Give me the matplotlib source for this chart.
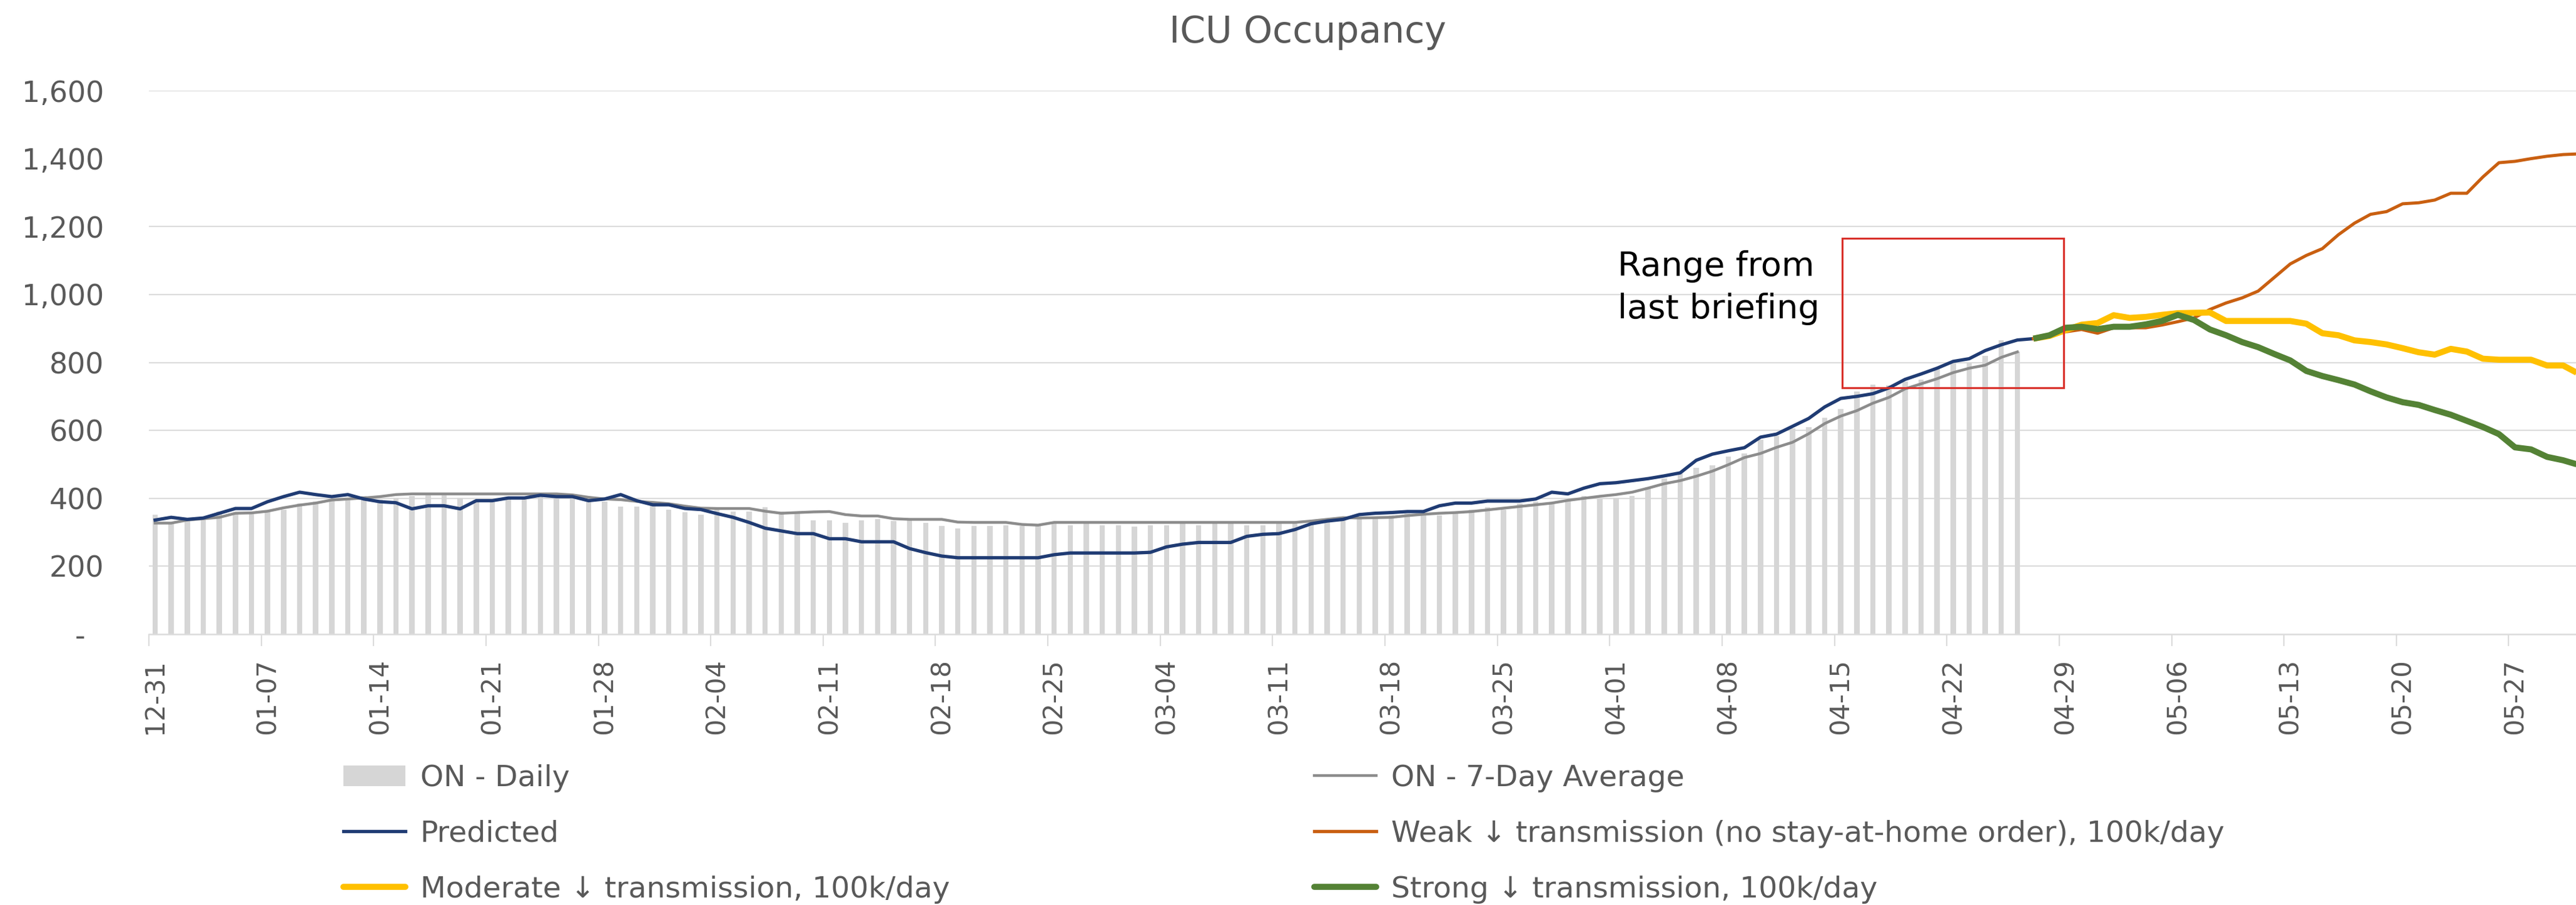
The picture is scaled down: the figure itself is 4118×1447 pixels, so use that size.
import numpy as np
import matplotlib
matplotlib.use("Agg")
import matplotlib.pyplot as plt
from matplotlib.patches import Rectangle
from matplotlib.lines import Line2D
from matplotlib.patches import Patch

# ---------------- data ----------------
tick_labels = ["12-31", "01-07", "01-14", "01-21", "01-28", "02-04", "02-11", "02-18",
               "02-25", "03-04", "03-11", "03-18", "03-25", "04-01", "04-08", "04-15",
               "04-22", "04-29", "05-06", "05-13", "05-20", "05-27"]

on_daily = [352, 327, 333, 338, 361, 356, 356, 361, 367, 384, 390, 395, 395, 407, 395, 401,
            407, 409, 409, 401, 395, 395, 401, 401, 409, 407, 407, 390, 390, 375, 375, 384,
            367, 359, 352, 373, 361, 361,
            373, 361, 356, 335, 335, 327, 335, 338, 333, 338, 327, 318, 312, 318, 318, 321,
            318, 318, 327, 321, 327, 321, 321, 316, 321, 321, 327, 321, 325, 325, 321, 321,
            327, 325, 333, 341, 338, 344,
            344, 350, 356, 356, 350, 361, 367, 373, 367, 384, 390, 386, 395, 407, 398, 401,
            407, 432, 458, 473, 489, 498, 523, 532, 572, 583, 606, 610, 637, 663, 715, 735,
            732, 743, 749, 783, 797, 800, 819, 865, 833]

on_7day = [327, 327, 336, 340, 344, 356, 357, 362, 372, 380, 386, 395, 398, 401, 405, 411,
           413, 413, 413, 413, 413, 413, 413, 413, 413, 413, 410, 403, 398, 396, 391, 388,
           384, 377, 371, 370, 370, 370,
           362, 356, 358, 360, 361, 352, 348, 348, 340, 338, 338, 338, 330, 329, 329, 329,
           323, 321, 329, 329, 329, 329, 329, 329, 329, 329, 329, 329, 329, 329, 329, 329,
           329, 329, 333, 338, 343, 342,
           343, 344, 349, 353, 356, 358, 361, 366, 371, 376, 381, 386, 394, 400, 406, 411,
           418, 430, 443, 452, 465, 480, 499, 520, 532, 550, 565, 590, 620, 642, 658, 680,
           697, 722, 737, 752, 770, 783, 792, 815, 831]

predicted = [336, 344, 338, 342, 356, 370, 370, 390, 405, 418, 411, 405, 411, 398, 390, 387,
             369, 378, 378, 369, 393, 393, 401, 401, 409, 405, 405, 393, 398, 411, 393, 381,
             381, 370, 367, 355, 344, 329,
             312, 304, 296, 296, 281, 281, 272, 272, 272, 252, 240, 230, 225, 225, 225, 225,
             225, 225, 234, 239, 239, 239, 239, 239, 241, 257, 265, 270, 270, 270, 288, 294,
             296, 308, 325, 333, 338, 352,
             356, 358, 361, 361, 378, 386, 386, 392, 392, 392, 398, 418, 413, 430, 443, 446,
             452, 458, 466, 475, 512, 530, 540, 549, 580, 589, 612, 635, 669, 694, 700, 708,
             725, 750, 766, 783, 803, 811, 835, 852, 866, 870]

scenario_start_day = 117  # 04-27, last predicted day

weak = [870, 878, 890, 897, 886, 902, 902, 902, 910, 920, 931, 956, 975, 990, 1010, 1050,
        1090, 1115, 1135, 1176, 1210, 1236, 1244, 1267, 1270, 1278, 1298, 1298, 1346, 1388,
        1392, 1400, 1407, 1412, 1414]
moderate = [870, 878, 895, 911, 916, 939, 931, 934, 940, 945, 946, 947, 922, 922, 922, 922,
            922, 914, 886, 880, 865, 860, 853, 842, 830, 823, 840, 832, 811, 808, 808, 808,
            791, 791, 766]
strong = [870, 880, 902, 905, 898, 905, 905, 912, 922, 940, 925, 897, 880, 860, 845, 825,
          806, 775, 760, 748, 735, 715, 697, 683, 675, 660, 646, 628, 610, 589, 550, 544,
          522, 512, 498]

y_ticks = [0, 200, 400, 600, 800, 1000, 1200, 1400, 1600]
grid_values = [200, 400, 600, 800, 1000, 1200, 1600]
briefing_range = (105.1, 118.9, 726, 1165)  # x0, x1, y0, y1 in data units

# ---------------- style ----------------
C_BAR = "#d6d6d6"
C_AVG = "#8c8c8c"
C_PRED = "#1f3b73"
C_WEAK = "#c95f10"
C_MOD = "#ffc000"
C_STRONG = "#548235"
C_TEXT = "#595959"
C_GRID = "#dcdcdc"

W, H = 4118, 1447
fig = plt.figure(figsize=(W / 100, H / 100), dpi=100)
ax = fig.add_axes([238 / W, (H - 1014) / H, 1 - 238 / W, (1014 - 145) / H])

x_obs = np.arange(len(on_daily))
x_pred = np.arange(len(predicted))
x_scn = scenario_start_day + np.arange(len(weak))

ax.bar(x_obs, on_daily, width=0.33, color=C_BAR, zorder=2)
ax.plot(np.arange(len(on_7day)), on_7day, color=C_AVG, lw=3.2, zorder=3)
ax.plot(x_pred, predicted, color=C_PRED, lw=3.8, zorder=4)
ax.plot(x_scn, weak, color=C_WEAK, lw=3.6, zorder=5)
ax.plot(x_scn, moderate, color=C_MOD, lw=7.0, zorder=6, solid_capstyle="butt")
ax.plot(x_scn, strong, color=C_STRONG, lw=7.0, zorder=7, solid_capstyle="butt")

for g in grid_values:
    ax.axhline(g, color=C_GRID, lw=1.6, zorder=1)

x0, x1, y0, y1 = briefing_range
ax.add_patch(Rectangle((x0, y0), x1 - x0, y1 - y0, fill=False, edgecolor="#d9302a",
                       lw=2.2, zorder=8))
ax.text(91.1, 1130, "Range from\nlast briefing", fontsize=39, color="black",
        ha="left", va="top", linespacing=1.38, zorder=9)

ax.set_xlim(-0.39, 150.8)
ax.set_ylim(0, 1600)

# y axis
ax.set_yticks(y_ticks)
ax.set_yticklabels(["-  "] + [f"{v:,}" for v in y_ticks[1:]])
ax.tick_params(axis="y", length=0, pad=52, labelsize=33, labelcolor=C_TEXT)

# x axis: labels at weekly positions, tick marks slightly left (category boundaries)
label_pos = np.arange(len(tick_labels)) * 7
ax.set_xticks(label_pos)
ax.set_xticklabels(tick_labels, rotation=90)
ax.tick_params(axis="x", which="major", length=0, pad=28, labelsize=30, labelcolor=C_TEXT)
ax.set_xticks(label_pos - 0.39, minor=True)
ax.tick_params(axis="x", which="minor", length=14, width=1.6, color=C_GRID, direction="out")

for s in ["top", "right", "left"]:
    ax.spines[s].set_visible(False)
ax.spines["bottom"].set_color(C_GRID)
ax.spines["bottom"].set_linewidth(1.8)
ax.spines["bottom"].set_zorder(2.5)

# title
fig.text(2090 / W, 1 - 68 / H, "ICU Occupancy", fontsize=42, color=C_TEXT,
         ha="center", va="baseline")

# legends
h_daily = Patch(facecolor=C_BAR, edgecolor="none")
h_avg = Line2D([], [], color=C_AVG, lw=3.2)
h_pred = Line2D([], [], color=C_PRED, lw=3.8)
h_weak = Line2D([], [], color=C_WEAK, lw=3.8)
h_mod = Line2D([], [], color=C_MOD, lw=7.0, solid_capstyle="round")
h_str = Line2D([], [], color=C_STRONG, lw=7.0, solid_capstyle="round")

common = dict(frameon=False, fontsize=34, handlelength=2.1, handletextpad=0.5,
              labelspacing=0.93, borderpad=0, borderaxespad=0, labelcolor=C_TEXT,
              loc="upper left")
fig.legend([h_daily, h_pred, h_mod],
           ["ON - Daily", "Predicted", "Moderate \u2193 transmission, 100k/day"],
           bbox_to_anchor=(549 / W, 1 - 1222 / H), **common)
fig.legend([h_avg, h_weak, h_str],
           ["ON - 7-Day Average", "Weak \u2193 transmission (no stay-at-home order), 100k/day",
            "Strong \u2193 transmission, 100k/day"],
           bbox_to_anchor=(2101 / W, 1 - 1222 / H), **common)

fig.savefig("out.png", dpi=100, facecolor="white")
